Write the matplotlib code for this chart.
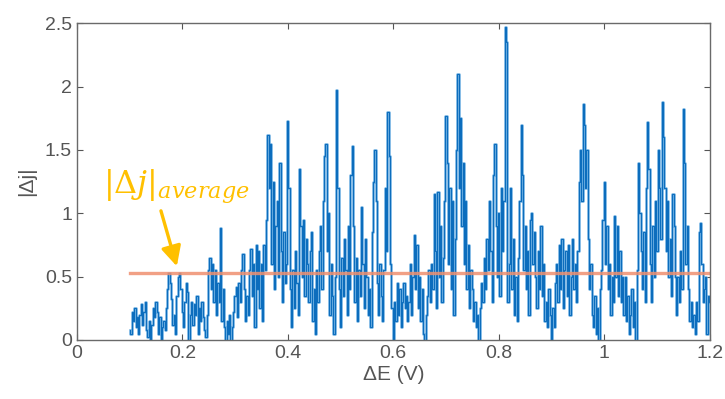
import numpy as np
import matplotlib.pyplot as plt

# |dj| readings, 4 per 0.01 V step from 0.10 to 1.20 V
dj_values = [
    0.08, 0.05, 0.22, 0.15,  0.25, 0.10, 0.18, 0.05,  0.20, 0.28, 0.12, 0.22,
    0.30, 0.08, 0.02, 0.15,  0.00, 0.12, 0.25, 0.18,  0.30, 0.22, 0.05, 0.18,
    0.00, 0.10, 0.15, 0.08,  0.25, 0.40, 0.53, 0.45,  0.32, 0.12, 0.20, 0.05,
    0.35, 0.50, 0.53, 0.40,  0.22, 0.10, 0.30, 0.45,  0.38, 0.00, 0.20, 0.30,
    0.12, 0.28, 0.20, 0.35,  0.05, 0.25, 0.15, 0.30,  0.18, 0.08, 0.02, 0.20,
    0.55, 0.65, 0.40, 0.60,  0.30, 0.55, 0.20, 0.45,  0.30, 0.88, 0.15, 0.40,
    0.10, 0.00, 0.15, 0.05,  0.20, 0.00, 0.10, 0.22,  0.35, 0.42, 0.18, 0.45,
    0.30, 0.55, 0.68, 0.40,  0.15, 0.35, 0.20, 0.55,  0.72, 0.35, 0.60, 0.10,
    0.75, 0.40, 0.70, 0.25,  0.60, 0.15, 0.75, 0.55,  0.95, 1.62, 1.20, 1.55,
    0.60, 1.25, 0.40, 0.90,  1.10, 0.50, 1.40, 0.70,  0.30, 0.85, 0.45, 0.60,
    1.73, 1.20, 0.40, 0.10,  0.55, 0.25, 0.70, 0.45,  0.20, 1.35, 0.90, 0.50,
    0.95, 0.35, 0.80, 0.60,  0.30, 0.70, 0.85, 0.15,  0.40, 0.05, 0.55, 0.30,
    0.70, 0.90, 0.40, 1.10,  1.45, 1.55, 0.70, 1.00,  0.20, 0.60, 0.35, 0.05,
    0.50, 1.97, 1.20, 0.40,  0.10, 0.65, 0.35, 0.80,  0.55, 0.20, 0.90, 0.40,
    1.30, 1.53, 0.90, 0.30,  0.65, 0.15, 0.55, 0.35,  1.05, 0.60, 0.25, 0.80,
    0.50, 0.20, 0.40, 0.10,  0.85, 1.25, 1.50, 1.10,  0.45, 0.20, 0.60, 0.35,
    0.15, 0.55, 1.20, 0.70,  1.80, 1.45, 0.60, 0.25,  0.00, 0.30, 0.15, 0.45,
    0.20, 0.40, 0.10, 0.30,  0.45, 0.25, 0.35, 0.15,  0.30, 0.60, 0.20, 0.50,
    0.83, 0.40, 0.75, 0.25,  0.50, 0.15, 0.40, 0.05,  0.00, 0.20, 0.35, 0.55,
    0.30, 0.60, 0.40, 1.15,  0.70, 0.25, 1.17, 0.50,  0.90, 0.30, 0.65, 1.10,
    1.77, 1.40, 0.60, 1.20,  0.40, 1.10, 0.20, 0.80,  1.50, 2.10, 1.20, 1.75,
    0.90, 1.40, 0.60, 1.10,  0.40, 0.75, 0.25, 0.55,  0.40, 0.15, 0.30, 0.10,
    0.20, 0.00, 0.25, 0.45,  0.30, 0.65, 0.40, 0.80,  0.55, 1.10, 0.70, 0.30,
    1.30, 1.55, 0.90, 0.50,  1.00, 0.35, 1.20, 0.70,  1.10, 2.47, 2.35, 0.30,
    0.60, 1.20, 0.40, 0.80,  0.20, 0.50, 0.15, 0.65,  1.10, 1.70, 1.30, 0.55,
    0.90, 0.40, 0.70, 0.20,  0.95, 1.00, 0.60, 0.85,  0.50, 0.25, 0.70, 0.40,
    0.90, 0.35, 0.60, 0.15,  0.30, 0.10, 0.40, 0.20,  0.00, 0.25, 0.10, 0.45,
    0.60, 0.30, 0.75, 0.40,  0.80, 0.25, 0.55, 0.70,  0.35, 0.75, 0.20, 0.50,
    0.80, 0.40, 0.60, 0.30,  0.70, 1.25, 1.50, 1.10,  1.86, 1.70, 1.20, 1.50,
    0.80, 0.40, 0.60, 0.20,  0.10, 0.35, 0.05, 0.25,  0.00, 0.40, 0.55, 0.95,
    1.25, 0.60, 0.90, 0.40,  0.60, 0.20, 0.50, 0.30,  0.98, 0.50, 0.90, 0.35,
    0.70, 0.30, 0.50, 0.20,  0.50, 0.15, 0.35, 0.05,  0.20, 0.40, 0.10, 0.30,
    0.00, 0.55, 1.40, 1.00,  0.70, 0.40, 0.85, 0.30,  1.20, 1.72, 1.35, 0.60,
    0.30, 0.90, 0.50, 1.10,  0.70, 1.50, 1.20, 0.80,  1.88, 1.60, 1.20, 0.70,
    1.10, 0.50, 0.80, 0.35,  1.15, 0.90, 0.50, 0.20,  0.50, 0.30, 0.70, 0.40,
    1.82, 1.40, 0.60, 0.90,  0.40, 0.15, 0.30, 0.10,  0.20, 0.05, 0.30, 0.15,
    0.85, 0.92, 0.60, 0.30,  0.40, 0.50, 0.05, 0.35,  0.30,
]
e_start, e_end = 0.1, 1.2
dj_average = 0.53

x_ticks = [0, 0.2, 0.4, 0.6, 0.8, 1.0, 1.2]
x_labels = ['0', '0.2', '0.4', '0.6', '0.8', '1', '1.2']
y_ticks = [0, 0.5, 1.0, 1.5, 2.0, 2.5]
y_labels = ['0', '0.5', '1', '1.5', '2', '2.5']

plt.rcParams['font.family'] = ['Liberation Sans', 'DejaVu Sans']
plt.rcParams['mathtext.fontset'] = 'dejavuserif'

fig = plt.figure(figsize=(7.25, 3.99), dpi=100)
ax = fig.add_axes([0.106, 0.148, 0.873, 0.794])

dE = np.linspace(e_start, e_end, len(dj_values))
ax.plot(dE, dj_values, color='#62a8de', lw=1.8, drawstyle='steps-mid')
ax.plot(dE, dj_values, color='#0a6cbc', lw=0.7, drawstyle='steps-mid')
ax.plot([e_start, e_end], [dj_average, dj_average], color='#ef9070', lw=2.4, alpha=0.85)

ax.annotate('', xy=(0.191, 0.56), xytext=(0.158, 1.04),
            arrowprops=dict(arrowstyle='-|>,head_width=0.6,head_length=1.2',
                            color='#FFC000', lw=2.4))
ax.text(0.05, 1.21, r'$|\Delta j|_{average}$', color='#FFC000', fontsize=23,
        va='center', ha='left')

ax.set_xlim(0, 1.2)
ax.set_ylim(0, 2.5)
ax.set_xticks(x_ticks)
ax.set_xticklabels(x_labels)
ax.set_yticks(y_ticks)
ax.set_yticklabels(y_labels)
ax.tick_params(direction='in', top=True, right=True, length=4, width=0.8,
               colors='#555555', labelsize=14, labelcolor='#555555')
for s in ax.spines.values():
    s.set_color('#6a6a6a')
    s.set_linewidth(1.0)

ax.set_xlabel('ΔE (V)', fontsize=15, color='#555555', labelpad=2)
ax.set_ylabel('|Δj|', fontsize=15, color='#555555', labelpad=6)

fig.savefig('out.png', dpi=100)
